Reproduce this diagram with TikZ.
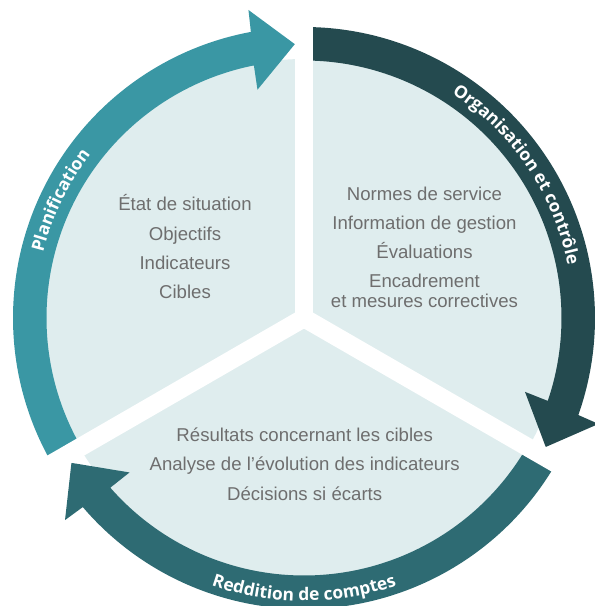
\documentclass[tikz,border=0pt]{standalone}
\usepackage{fontspec}
\setmainfont{Liberation Sans}
\newfontfamily\labfont{Open Sans}
\usetikzlibrary{decorations.text}
\definecolor{plan}{HTML}{3A97A4}
\definecolor{orga}{HTML}{244A4F}
\definecolor{redd}{HTML}{2E6B73}
\definecolor{lightfill}{HTML}{DFEDEE}
\definecolor{txt}{HTML}{6E6E6E}
\begin{document}
\begin{tikzpicture}[x=1pt,y=1pt,
  item/.style={text=txt, font=\fontsize{18.6}{20}\selectfont, anchor=base, inner sep=0pt},
  gapline/.style={draw=white, line width=18.4pt},
  arclabel/.style={postaction={decorate}, decoration={text along path, text align=center, text color=white}}]
\useasboundingbox (-304,-288) rectangle (291,318);
\coordinate (c) at (0,0);
\fill[lightfill] (c) circle (259);
% Planification arrow
\fill[plan] (210:291) arc[start angle=210,end angle=100.52,radius=291] -- (100.22:313) -- (91.92:274) -- (101.52:233) -- (101.22:257.5) arc[start angle=101.22,end angle=210,radius=257.5] -- cycle;
% Organisation arrow
\fill[orga] (90:291) arc[start angle=90,end angle=-19.48,radius=291] -- (-19.78:313) -- (-28.08:274) -- (-18.48:233) -- (-18.78:257.5) arc[start angle=-18.78,end angle=90,radius=257.5] -- cycle;
% Reddition arrow
\fill[redd] (-30:291) arc[start angle=-30,end angle=-139.48,radius=291] -- (-139.78:313) -- (-148.08:274) -- (-138.48:233) -- (-138.78:257.5) arc[start angle=-138.78,end angle=-30,radius=257.5] -- cycle;
% gaps
\coordinate (g1) at (90:330);
\coordinate (g2) at (210:330);
\coordinate (g3) at (-30:330);
\draw[gapline] (c) -- (g1);
\draw[gapline] (c) -- (g2);
\draw[gapline] (c) -- (g3);
% arc labels
\path[arclabel, decoration={text={|\labfont\bfseries\fontsize{17.4}{20}\selectfont|Planification}}] (184.2:269) arc[start angle=184.2,end angle=124.2,radius=269];
\path[arclabel, decoration={text={|\labfont\bfseries\fontsize{17.4}{20}\selectfont|Organisation et contrôle}}] (74:269) arc[start angle=74,end angle=-6,radius=269];
\path[arclabel, decoration={text={|\labfont\bfseries\fontsize{17.4}{20}\selectfont|Reddition de comptes}}] (235:283) arc[start angle=235,end angle=305,radius=283];
% texts
\node[item] (a1) at (-119,107.3) {État de situation};
\node[item] (a2) at (-119,77.3) {Objectifs};
\node[item] (a3) at (-119,48.7) {Indicateurs};
\node[item] (a4) at (-119,19.7) {Cibles};
\node[item] (b1) at (120.5,118) {Normes de service};
\node[item] (b2) at (120.5,88.7) {Information de gestion};
\node[item] (b3) at (120.5,59.7) {Évaluations};
\node[item] (b4) at (120.5,30.7) {Encadrement};
\node[item] (b5) at (120.5,10.7) {et mesures correctives};
\node[item] (d1) at (0.7,-123.7) {Résultats concernant les cibles};
\node[item] (d2) at (0.7,-152.7) {Analyse de l’évolution des indicateurs};
\node[item] (d3) at (0.7,-182) {Décisions si écarts};
\end{tikzpicture}
\end{document}
